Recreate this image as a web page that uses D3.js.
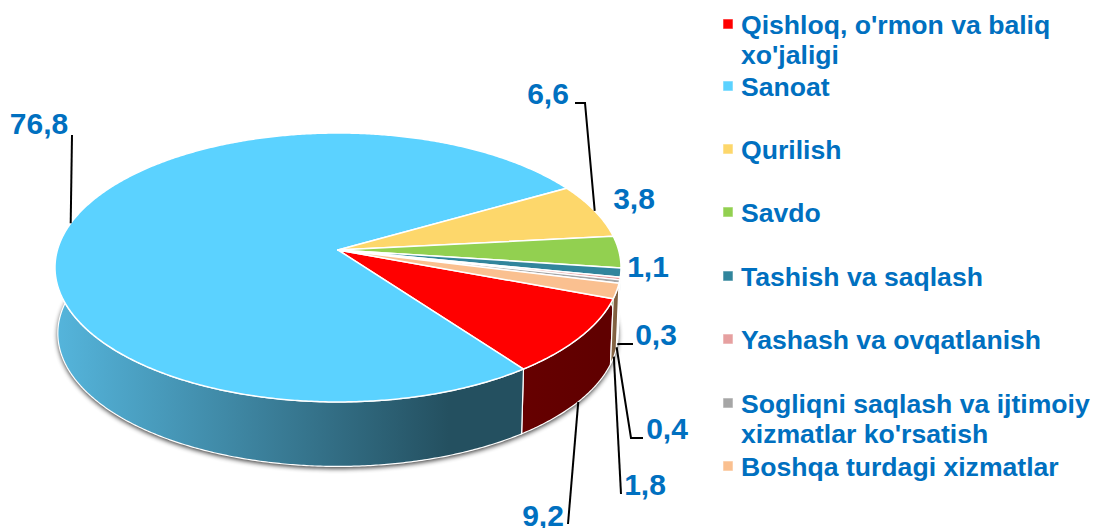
<!DOCTYPE html>
<html><head><meta charset="utf-8">
<script src="https://cdn.jsdelivr.net/npm/d3@7"></script>
<style>html,body{margin:0;padding:0;background:#fff}svg{display:block}text{font-family:"Liberation Sans",Arial,sans-serif;font-weight:700;fill:#0070c0}</style>
</head><body><svg id="c" width="1094" height="528"></svg>
<script>
const categories=["Qishloq, o'rmon va baliq xo'jaligi","Sanoat","Qurilish","Savdo","Tashish va saqlash","Yashash va ovqatlanish","Sogliqni saqlash va ijtimoiy xizmatlar ko'rsatish","Boshqa turdagi xizmatlar"];
const values=[9.2,76.8,6.6,3.8,1.1,0.3,0.4,1.8];
const valueLabels=["9,2","76,8","6,6","3,8","1,1","0,3","0,4","1,8"];
const colors=["#ff0000","#5bd2ff","#fdd76b","#92d050","#31859c","#e6a0a0","#a6a6a6","#fac090"];
const sideColors=[["#660000","#600000"],["#55b5dc","#245060"],["#98804a","#98804a"],["#5a8030","#5a8030"],["#1d5060","#1d5060"],["#8a6060","#8a6060"],["#666","#666"],["#8a6a48","#7a5a3c"]];
const legendLines=[["Qishloq, o'rmon va baliq","xo'jaligi"],["Sanoat"],["Qurilish"],["Savdo"],["Tashish va saqlash"],["Yashash va ovqatlanish"],["Sogliqni saqlash va ijtimoiy","xizmatlar ko'rsatish"],["Boshqa turdagi xizmatlar"]];
const legendY=[25,87,150,213,277,340,404,467];
const labelPos=[[543,515],[39,123],[548,93],[634,198],[648,266],[656,334],[667,428],[645,484]];
const leaderEnds=[[[568,524]],[[72,135]],[[575,103],[585,103]],[],[],[[633,344],[620,344]],[[643,438],[631,438]],[[621,494]]];
const leaderOnSide=[true,false,false,false,false,true,true,true];

const svg=d3.select("#c");
const cx=338,cy=250,A=132.2,B=280.6,p=0.13,depth=66,shrink=0.99;
const proj=(t)=>{const u=Math.sin(t),v=Math.cos(t),w=1+p*v;return [cx+B*u/w,cy-A*v/w];};
const low=(t)=>{const [x,y]=proj(t);return [cx+shrink*(x-cx),cy+shrink*(y-cy)+depth];};
const deg=Math.PI/180;
const pie=d3.pie().sort(null).value(d=>d).startAngle(110.6*deg).endAngle(470.6*deg);
const arcs=pie(values);
const line=d3.line().curve(d3.curveLinearClosed);
const samples=(a,b)=>{const n=Math.max(2,Math.ceil((b-a)/(0.5*deg)));return d3.range(n+1).map(i=>a+(b-a)*i/n);};
const defs=svg.append("defs");
defs.append("filter").attr("id","sh").attr("x","-10%").attr("y","-10%").attr("width","120%").attr("height","120%")
 .append("feGaussianBlur").attr("stdDeviation",2.4);
const frontA=84*deg,frontB=276*deg;
// shadow
const all=samples(0,2*Math.PI).map(low);
svg.append("path").attr("d",line(all)).attr("fill","#000").attr("opacity",.8).attr("filter","url(#sh)").attr("transform","translate(0,2)");
// side walls
const sides=svg.append("g");
arcs.forEach((d,i)=>{
  const pieces=[[d.startAngle,d.endAngle],[d.startAngle-2*Math.PI,d.endAngle-2*Math.PI]];
  pieces.forEach(([a0,b0],j)=>{
    const a=Math.max(a0,frontA),b=Math.min(b0,frontB);
    if(b<=a)return;
    const ts=samples(a,b);
    const poly=ts.map(t=>proj(t)).concat(ts.slice().reverse().map(low));
    const xs=poly.map(q=>q[0]);
    const id=`g${i}_${j}`;
    const g=defs.append("linearGradient").attr("id",id).attr("gradientUnits","userSpaceOnUse")
      .attr("x1",d3.min(xs)).attr("x2",d3.max(xs)).attr("y1",0).attr("y2",0);
    g.append("stop").attr("offset",0).attr("stop-color",sideColors[i][0]);
    g.append("stop").attr("offset",.84).attr("stop-color",sideColors[i][1]);
    g.append("stop").attr("offset",1).attr("stop-color",sideColors[i][1]);
    sides.append("path").attr("d",line(poly)).attr("fill",`url(#${id})`).attr("stroke","#fff").attr("stroke-width",1.2).attr("stroke-linejoin","round");
  });
});
// top face
const topFace=svg.append("g");
arcs.forEach((d,i)=>{
  const pts=[[cx,cy]].concat(samples(d.startAngle,d.endAngle).map(t=>proj(t)));
  topFace.append("path").attr("d",line(pts)).attr("fill",colors[i]).attr("stroke","#fff").attr("stroke-width",1.5).attr("stroke-linejoin","round");
});
// leaders
arcs.forEach((d,i)=>{
  const ends=leaderEnds[i]; if(!ends.length)return;
  const mid=(d.startAngle+d.endAngle)/2;
  const anchor=leaderOnSide[i]?low(mid):proj(mid);
  svg.append("path").attr("d",d3.line()(ends.concat([anchor]))).attr("fill","none").attr("stroke","#000").attr("stroke-width",2);
});
// value labels
svg.append("g").selectAll("text").data(valueLabels).join("text")
  .attr("x",(d,i)=>labelPos[i][0]).attr("y",(d,i)=>labelPos[i][1]).attr("dy","0.36em")
  .attr("text-anchor","middle").attr("font-size",30).text(d=>d);
// legend
const lg=svg.append("g");
categories.forEach((c,i)=>{
  const y=legendY[i];
  lg.append("rect").attr("x",723.5).attr("y",y-5.5).attr("width",9).attr("height",9).attr("fill",colors[i]).attr("stroke",colors[i]).attr("stroke-opacity",.45).attr("stroke-width",1);
  legendLines[i].forEach((s,k)=>lg.append("text").attr("x",741).attr("y",y-1+k*30).attr("dy","0.36em").attr("font-size",26.6).text(s));
});
</script></body></html>
